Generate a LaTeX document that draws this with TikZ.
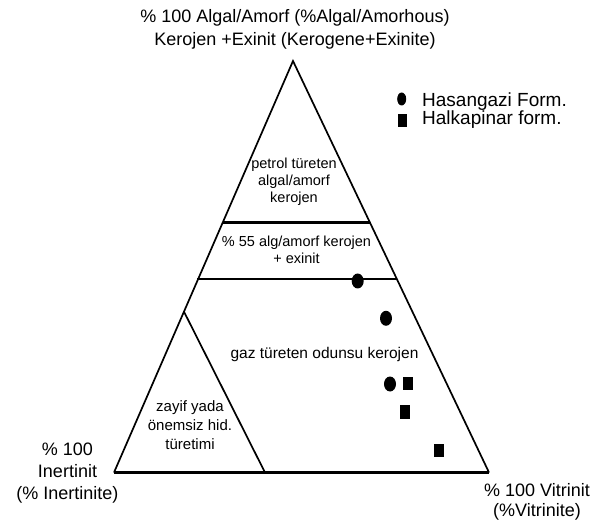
\documentclass[tikz,border=0pt]{standalone}
\usepackage{fontspec}
\setmainfont{Liberation Sans}
\usetikzlibrary{shapes.geometric}

\begin{document}
\begin{tikzpicture}[x=1pt, y=-1pt,
      every node/.style={inner sep=0pt, text=black},
      side/.style={line width=1.7pt},
      bottomline/.style={line width=3pt},
      big/.style={align=center, anchor=base, font=\fontsize{18}{22.5}\selectfont},
      zonetext/.style={align=center, anchor=base, font=\fontsize{14.5}{17.3}\selectfont},
      hasan/.style={ellipse, fill=black, minimum width=12pt, minimum height=15pt},
      halka/.style={rectangle, fill=black, minimum width=10pt, minimum height=13pt}
    ]
    \useasboundingbox (0,0) rectangle (607,526);
    % corners of the triangle
    \coordinate (E) at (293,61);
    \coordinate (I) at (114,472.5);
    \coordinate (V) at (489,472.5);
    \draw[side] (I) -- (E) -- (V);
    \draw[bottomline] (I) -- (V);
    % zone borders
    \coordinate (b1l) at (222.8,222.3);
    \coordinate (b1r) at (369.8,222.3);
    \coordinate (b2l) at (197,278.7);
    \coordinate (b2r) at (396.7,278.7);
    \coordinate (it) at (184,311.7);
    \coordinate (ib) at (265,472.5);
    \draw[line width=3pt] (b1l) -- (b1r);
    \draw[line width=2pt] (b2l) -- (b2r);
    \draw[side] (it) -- (ib);
    % labels
    \node[big] (exi) at (295,45.5) {\% 100 Algal/Amorf (\%Algal/Amorhous)\\Kerojen +Exinit (Kerogene+Exinite)};
    \node[big, font=\fontsize{18}{22}\selectfont] (ine) at (67.5,499) {\% 100\\Inertinit\\(\% Inertinite)};
    \node[big, font=\fontsize{18}{20}\selectfont] (vit) at (537,516.7) {\% 100 Vitrinit\\(\%Vitrinite)};
    \node[zonetext] (oil) at (294,202.7) {petrol türeten\\algal/amorf\\kerojen};
    \node[zonetext] (mix) at (296.5,264) {\% 55 alg/amorf kerojen\\+ exinit};
    \node[zonetext, font=\fontsize{15.5}{18}\selectfont] (gas) at (324.5,358) {gaz türeten odunsu kerojen};
    \node[zonetext, font=\fontsize{15}{18.7}\selectfont] (weak) at (190,449) {zayif yada\\önemsiz hid.\\türetimi};
    % legend
    \node[hasan, minimum width=9pt, minimum height=13pt] (lgH) at (401.7,99) {};
    \node[halka, minimum width=9pt] (lgK) at (402.5,120.5) {};
    \node[anchor=base west, font=\fontsize{19}{22}\selectfont] (lgHt) at (422,106.6) {Hasangazi Form.};
    \node[anchor=base west, font=\fontsize{19}{22}\selectfont] (lgKt) at (422,125) {Halkapinar form.};
    % samples
    \node[hasan] (h1) at (357.7,281) {};
    \node[hasan] (h2) at (386,318.3) {};
    \node[hasan] (h3) at (390,384) {};
    \node[halka] (k1) at (408,383) {};
    \node[halka, minimum height=14pt] (k2) at (405,411.5) {};
    \node[halka] (k3) at (439,450) {};
  \end{tikzpicture}
\end{document}
